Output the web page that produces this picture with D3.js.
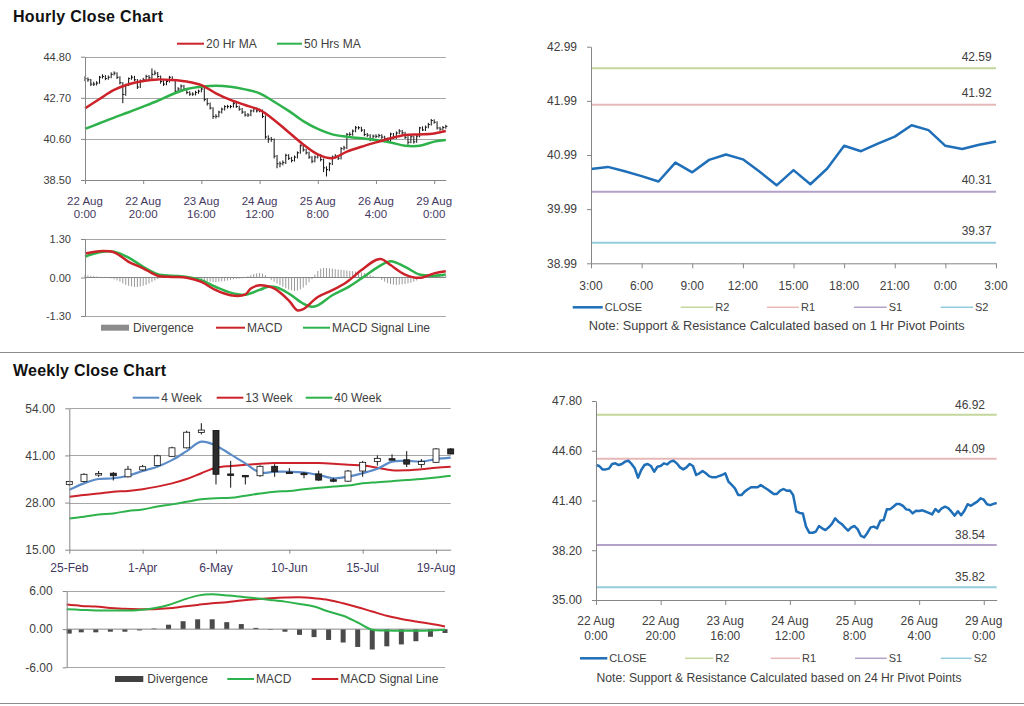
<!DOCTYPE html>
<html><head><meta charset="utf-8">
<script src="https://cdn.jsdelivr.net/npm/d3@7"></script>
<style>body{margin:0;background:#fff}svg{display:block}</style>
</head><body><svg id="c" width="1024" height="706"></svg>
<script>
// ---------------- DATA ----------------
const hourTickIdx = [0,20,40,60,80,100,120];
const hourLabels = [["22 Aug","0:00"],["22 Aug","20:00"],["23 Aug","16:00"],["24 Aug","12:00"],["25 Aug","8:00"],["26 Aug","4:00"],["29 Aug","0:00"]];
const hourClose = [
43.68,43.62,43.40,43.40,43.45,43.75,43.79,43.68,43.75,43.90,
43.96,43.75,43.47,42.87,43.36,43.68,43.75,43.62,43.25,43.57,
43.62,43.79,43.72,43.90,43.96,43.79,43.53,43.40,43.53,43.75,
43.62,43.04,43.15,43.30,43.15,42.97,42.89,42.89,42.97,43.04,
43.15,42.61,42.40,42.18,41.75,41.75,41.97,42.12,42.25,42.25,
42.25,42.40,42.25,42.12,41.97,41.82,41.82,42.03,42.14,42.03,
42.05,41.75,40.70,40.60,40.57,39.72,39.33,39.33,39.39,39.76,
39.61,39.50,39.67,39.89,40.25,40.04,39.89,39.67,39.46,39.67,
39.76,39.54,39.12,39.03,39.33,39.67,39.72,39.61,40.10,40.14,
40.83,40.83,41.00,41.17,41.17,41.05,40.83,40.79,40.57,40.74,
40.73,40.77,40.69,40.60,40.50,40.85,40.67,40.90,41.00,40.91,
40.68,40.43,40.71,40.45,40.74,41.16,41.06,41.20,41.33,41.54,
41.45,41.16,41.10,41.18,41.24];
const hourHigh = [
43.80,43.74,43.66,43.52,43.55,43.82,43.90,43.86,43.84,44.00,
44.05,44.00,43.80,43.50,43.42,43.74,43.85,43.82,43.66,43.64,
43.72,43.88,43.86,44.20,44.10,44.02,43.84,43.60,43.62,43.82,
43.80,43.66,43.24,43.38,43.36,43.20,43.04,42.98,43.06,43.12,
43.28,43.20,42.68,42.46,42.22,41.86,42.04,42.20,42.32,42.34,
42.33,42.48,42.46,42.30,42.18,42.02,41.92,42.10,42.22,42.20,
42.14,42.10,41.80,40.78,40.70,40.62,39.78,39.45,39.50,39.84,
39.82,39.68,39.75,39.96,40.32,40.30,40.10,39.95,39.72,39.75,
39.84,39.82,39.60,39.20,39.40,39.75,39.82,39.78,40.18,40.25,
40.90,40.94,41.08,41.26,41.25,41.22,41.10,40.90,40.84,40.82,
40.84,40.86,40.84,40.76,40.66,40.92,40.90,40.98,41.10,41.06,
40.96,40.74,40.78,40.76,40.82,41.22,41.24,41.28,41.42,41.62,
41.60,41.50,41.22,41.26,41.32];
const hourLow = [
43.55,43.52,43.30,43.30,43.33,43.42,43.68,43.60,43.62,43.70,
43.84,43.66,43.38,42.42,42.80,43.30,43.62,43.55,43.15,43.20,
43.50,43.56,43.64,43.66,43.85,43.72,43.42,43.30,43.34,43.48,
43.55,42.96,42.95,43.08,43.06,42.88,42.80,42.80,42.82,42.90,
42.98,42.52,42.30,42.10,41.62,41.64,41.70,41.90,42.05,42.15,
42.16,42.20,42.18,42.04,41.88,41.74,41.72,41.76,41.96,41.95,
41.96,41.66,40.60,40.40,40.45,39.60,39.10,39.15,39.25,39.32,
39.52,39.40,39.44,39.60,39.84,39.95,39.80,39.58,39.36,39.40,
39.60,39.45,38.90,38.68,38.95,39.26,39.60,39.52,39.55,40.02,
40.08,40.74,40.76,40.94,41.08,40.96,40.74,40.70,40.48,40.50,
40.64,40.66,40.60,40.52,40.40,40.44,40.60,40.60,40.84,40.84,
40.60,40.30,40.38,40.36,40.40,40.68,41.00,41.00,41.14,41.28,
41.38,41.08,41.02,41.04,41.12];
// moving averages read at every 5th bar
const maIdx = [0,5,10,15,20,25,30,35,40,45,50,55,60,65,70,75,80,85,90,95,100,105,110,115,120,124];
const ma20 = [42.16,42.64,43.10,43.39,43.56,43.64,43.61,43.53,43.35,42.93,42.59,42.33,42.08,41.57,40.94,40.32,39.81,39.61,39.95,40.20,40.42,40.63,40.80,40.83,40.88,41.00];
const ma50 = [41.11,41.40,41.69,41.96,42.25,42.55,42.88,43.15,43.27,43.32,43.27,43.13,42.93,42.50,42.03,41.51,41.11,40.83,40.71,40.63,40.54,40.42,40.25,40.25,40.46,40.54];
// hourly MACD
const hDivergence = [
0.08,0.07,0.06,0.05,
0.03,0.02,0.01,0.0,-0.01,
-0.03,-0.06,-0.10,-0.14,
-0.20,-0.25,-0.28,-0.30,-0.32,-0.32,-0.30,-0.28,-0.25,-0.20,
-0.15,-0.10,-0.05,0.0,
0.03,0.04,0.04,0.03,0.03,0.02,0.02,0.01,0.0,
-0.03,-0.05,-0.07,-0.09,-0.10,-0.12,-0.13,-0.14,-0.15,-0.15,-0.14,-0.13,-0.12,-0.10,-0.08,-0.06,-0.05,-0.04,-0.03,-0.02,
0.04,0.08,0.12,0.14,0.15,0.13,0.08,
-0.02,-0.08,-0.14,-0.20,-0.26,-0.31,-0.36,-0.40,-0.43,-0.45,-0.44,-0.40,-0.34,-0.26,-0.16,-0.06,
0.10,0.22,0.30,0.32,0.32,0.31,0.30,0.28,0.27,0.26,0.25,0.24,0.22,0.21,0.20,0.19,0.17,0.15,0.12,0.08,0.05,0.02,
-0.02,-0.08,-0.14,-0.19,-0.22,-0.24,-0.25,-0.24,-0.23,-0.22,-0.20,-0.18,-0.14,-0.10,-0.05,
0.0,0.02,0.03,0.04,0.04,0.05,0.06,0.06,0.06];
const hMacdIdx = [0,5,10,15,20,25,30,35,40,45,50,55,57,60,63,65,70,73,75,80,85,90,95,100,102,105,110,115,120,124];
const hMacd = [0.81,0.89,0.85,0.53,0.31,0.06,0.02,-0.01,-0.15,-0.43,-0.60,-0.58,-0.37,-0.26,-0.30,-0.37,-0.77,-1.11,-1.07,-0.66,-0.43,-0.15,0.25,0.59,0.62,0.42,0.10,-0.01,0.14,0.21];
const hSignalIdx = [0,5,10,15,20,25,30,35,40,45,50,55,60,63,66,70,75,78,80,85,90,95,100,105,110,115,120,124];
const hSignal = [0.70,0.85,0.87,0.67,0.36,0.11,0.06,0.02,-0.09,-0.32,-0.51,-0.58,-0.42,-0.31,-0.34,-0.54,-0.88,-0.99,-0.94,-0.60,-0.35,-0.03,0.31,0.55,0.36,0.10,0.06,0.10];
// 1 hr pivot chart (last 25 hourly closes)
const pivotHourLabels = ["3:00","6:00","9:00","12:00","15:00","18:00","21:00","0:00","3:00"];
const pivot1h = {R2:42.59, R1:41.92, S1:40.31, S2:39.37};
const pivot24h = {R2:46.92, R1:44.09, S1:38.54, S2:35.82};
// weekly
const weekLabels = ["25-Feb","1-Apr","6-May","10-Jun","15-Jul","19-Aug"];
const wOpen  = [33.0,33.8,35.9,36.1,35.1,37.0,38.2,40.75,43.1,47.3,47.9,35.9,35.5,35.4,38.0,36.4,36.1,35.9,34.3,33.9,36.7,39.3,40.1,39.8,38.5,39.1,42.8];
const wHigh  = [34.0,36.1,36.7,36.4,38.1,38.4,41.2,43.4,47.8,49.9,47.9,39.5,35.6,38.3,38.6,37.5,36.4,36.8,34.8,37.0,39.5,41.0,41.3,42.2,40.0,43.0,43.0];
const wLow   = [32.6,33.6,35.1,34.1,34.9,36.8,38.0,40.6,42.9,46.8,33.0,32.1,33.0,35.1,35.1,36.0,34.7,34.0,33.6,33.7,35.1,38.2,39.8,37.8,37.6,38.9,41.3];
const wClose = [33.8,35.8,36.0,35.4,37.2,37.9,40.9,43.1,47.4,48.0,35.8,35.8,35.4,38.0,36.5,36.3,36.0,34.2,34.2,36.7,39.1,40.2,40.0,38.6,39.3,42.8,41.4];
const w4  = [31.5,33.3,34.5,34.7,35.4,36.7,37.9,39.7,42.2,44.8,43.7,41.3,38.8,36.3,36.5,36.5,36.3,35.6,34.7,35.1,36.1,37.3,39.3,39.5,39.3,40.0,40.4];
const w13 = [29.6,30.1,30.5,31.0,31.2,31.7,32.4,33.3,34.5,36.1,37.6,38.1,38.4,38.7,38.9,38.9,38.9,38.9,38.7,38.4,38.2,37.6,36.9,36.9,37.2,37.6,37.9];
const w40 = [23.6,24.1,24.7,25.0,25.7,26.1,26.9,27.5,28.2,28.9,29.2,29.3,29.9,30.5,31.0,31.2,31.7,32.1,32.4,32.7,33.3,33.6,33.9,34.2,34.5,34.9,35.4];
const wDivergence = [-0.7,-0.5,-0.5,-0.4,-0.4,-0.2,0.1,0.7,1.25,1.55,1.55,1.1,0.8,0.2,-0.1,-0.4,-0.9,-1.25,-1.7,-2.1,-2.8,-3.2,-2.7,-2.4,-1.9,-1.2,-0.6];
const wMacd = [3.14,3.03,2.93,2.93,2.93,3.03,3.3,3.8,4.6,5.27,5.48,5.3,5.1,4.85,4.6,4.33,3.97,3.55,2.77,2.1,1.05,-0.1,-0.2,-0.25,-0.25,-0.2,-0.1];
const wSignal = [3.86,3.66,3.55,3.34,3.19,3.14,3.14,3.29,3.55,3.81,4.07,4.23,4.49,4.7,4.85,4.96,5.0,4.85,4.6,4.07,3.45,2.77,2.1,1.6,1.2,0.84,0.42];

// ---------------- DRAWING ----------------
const F = '"Liberation Sans", Arial, sans-serif';
const AX = "#868686", GRID = "#a6a6a6", TXT = "#404040", XTXT = "#44395f";
const RED = "#cc2229", GREEN = "#2eb24b", BLUE = "#1f6fb8", WBLUE = "#5b8cc8";
const PIV = {R2:"#c3d69b", R1:"#e6b9b8", S1:"#b3a2c7", S2:"#93cddd"};
const svg = d3.select("#c").attr("font-family", F);
const fmt2 = d => d3.format(".2f")(d).replace("\u2212", "-");

function yAxis(x0, y, ticks, fs) {
  const g = svg.append("g").attr("transform", `translate(${x0},0)`)
    .call(d3.axisLeft(y).tickValues(ticks).tickFormat(fmt2).tickSizeInner(4).tickSizeOuter(0).tickPadding(10));
  g.attr("font-family", F).attr("font-size", fs);
  g.select(".domain").attr("stroke", AX);
  g.selectAll(".tick line").attr("stroke", AX);
  g.selectAll(".tick text").attr("fill", TXT);
  return g;
}
function xAxis(y0, x, ticks) {
  const g = svg.append("g").attr("transform", `translate(0,${y0})`)
    .call(d3.axisBottom(x).tickValues(ticks).tickFormat("").tickSizeInner(4).tickSizeOuter(0));
  g.select(".domain").attr("stroke", AX);
  g.selectAll(".tick line").attr("stroke", AX);
  return g;
}
function grid(x, y, vals) {
  svg.append("g").selectAll("line").data(vals).join("line")
    .attr("x1", x.range()[0]).attr("x2", x.range()[1])
    .attr("y1", d => Math.round(y(d)) + 0.5).attr("y2", d => Math.round(y(d)) + 0.5)
    .attr("stroke", GRID).attr("stroke-width", 1);
}
function legendLine(x1, x2, y, color, w, label, fs) {
  svg.append("line").attr("x1", x1).attr("x2", x2).attr("y1", y).attr("y2", y).attr("stroke", color).attr("stroke-width", w);
  svg.append("text").attr("x", x2 + 2).attr("y", y + 4).attr("font-size", fs).attr("fill", TXT).text(label);
}
function legendBox(x1, x2, y, color, label, fs) {
  svg.append("rect").attr("x", x1).attr("y", y - 3).attr("width", x2 - x1).attr("height", 6).attr("fill", color);
  svg.append("text").attr("x", x2 + 4).attr("y", y + 4).attr("font-size", fs).attr("fill", TXT).text(label);
}
function twoLineLabels(x, ticks, labels, y1, y2, fs, color) {
  ticks.forEach((t, k) => {
    svg.append("text").attr("x", x(t)).attr("y", y1).attr("text-anchor", "middle").attr("font-size", fs).attr("fill", color).text(labels[k][0]);
    svg.append("text").attr("x", x(t)).attr("y", y2).attr("text-anchor", "middle").attr("font-size", fs).attr("fill", color).text(labels[k][1]);
  });
}

// titles + separators
svg.append("text").attr("x", 13).attr("y", 21.7).attr("font-size", 16).attr("font-weight", "bold").attr("fill", "#111").attr("textLength", 150).text("Hourly Close Chart");
svg.append("text").attr("x", 13).attr("y", 375.7).attr("font-size", 16).attr("font-weight", "bold").attr("fill", "#111").attr("textLength", 153).text("Weekly Close Chart");
[352.5, 703.5].forEach(yy => svg.append("line").attr("x1", 0).attr("x2", 1024).attr("y1", yy).attr("y2", yy).attr("stroke", "#8c8c8c").attr("stroke-width", 1));

// ===== Panel 1: hourly hi-lo with MAs =====
{
  const idx = d3.range(hourClose.length);
  const x = d3.scaleLinear().domain([0, 124]).range([85, 445.8]);
  const y = d3.scaleLinear().domain([38.5, 44.8]).range([180, 56.7]);
  grid(x, y, [40.6, 42.7, 44.8]);
  const g = svg.append("g").attr("stroke", "#111").attr("stroke-width", 1);
  g.selectAll("line.hl").data(idx).join("line").attr("class", "hl")
    .attr("x1", i => x(i)).attr("x2", i => x(i)).attr("y1", i => y(hourHigh[i])).attr("y2", i => y(hourLow[i]));
  g.selectAll("line.cl").data(idx).join("line").attr("class", "cl")
    .attr("x1", i => x(i)).attr("x2", i => x(i) + 1.6).attr("y1", i => y(hourClose[i])).attr("y2", i => y(hourClose[i]));
  const line = d3.line().x(d => x(d[0])).y(d => y(d[1])).curve(d3.curveCatmullRom.alpha(0.5));
  svg.append("path").attr("d", line(maIdx.map((t, k) => [t, ma50[k]]))).attr("fill", "none").attr("stroke", GREEN).attr("stroke-width", 2.5);
  svg.append("path").attr("d", line(maIdx.map((t, k) => [t, ma20[k]]))).attr("fill", "none").attr("stroke", RED).attr("stroke-width", 2.5);
  yAxis(85, y, [38.5, 40.6, 42.7, 44.8], 11);
  xAxis(180, x, hourTickIdx);
  twoLineLabels(x, hourTickIdx, hourLabels, 205.2, 217.9, 11.5, XTXT);
  legendLine(177, 204, 43.7, RED, 2, "20 Hr MA", 12);
  legendLine(277, 302, 43.7, GREEN, 2, "50 Hrs MA", 12);
}
// ===== Panel 2: hourly MACD =====
{
  const x = d3.scaleLinear().domain([0, 124]).range([85, 445.8]);
  const y = d3.scaleLinear().domain([-1.3, 1.3]).range([316, 239]);
  grid(x, y, [1.3, -1.3]);
  svg.append("g").selectAll("line").data(hDivergence).join("line")
    .attr("x1", (d, i) => x(i)).attr("x2", (d, i) => x(i)).attr("y1", y(0)).attr("y2", d => y(d))
    .attr("stroke", "#9a9a9a").attr("stroke-width", 1);
  svg.append("line").attr("x1", 85).attr("x2", 445.8).attr("y1", y(0)).attr("y2", y(0)).attr("stroke", AX);
  const line = d3.line().x(d => x(d[0])).y(d => y(d[1])).curve(d3.curveCatmullRom.alpha(0.5));
  svg.append("path").attr("d", line(hSignalIdx.map((t, k) => [t, hSignal[k]]))).attr("fill", "none").attr("stroke", GREEN).attr("stroke-width", 2.5);
  svg.append("path").attr("d", line(hMacdIdx.map((t, k) => [t, hMacd[k]]))).attr("fill", "none").attr("stroke", RED).attr("stroke-width", 2.5);
  yAxis(85, y, [-1.3, 0, 1.3], 11);
  legendBox(101, 129, 327.7, "#8c8c8c", "Divergence", 12);
  legendLine(216, 245, 327.7, RED, 2, "MACD", 12);
  legendLine(303, 330, 327.7, GREEN, 2, "MACD Signal Line", 12);
}
// pivot chart helper
function pivotChart(opts) {
  const {x, y, data, yTicks, pivots, labelX, labelDy, legendY, legendPos, note, noteX, noteY, noteLen} = opts;
  Object.keys(pivots).forEach(k => {
    const yy = y(pivots[k]);
    svg.append("line").attr("x1", x.range()[0]).attr("x2", x.range()[1]).attr("y1", yy).attr("y2", yy).attr("stroke", PIV[k]).attr("stroke-width", 2);
    svg.append("text").attr("x", labelX).attr("y", yy - labelDy).attr("text-anchor", "end").attr("font-size", 12).attr("fill", TXT).text(fmt2(pivots[k]));
  });
  const line = d3.line().x((d, i) => x(i)).y(d => y(d));
  svg.append("path").attr("d", line(data)).attr("fill", "none").attr("stroke", BLUE).attr("stroke-width", 2.5).attr("stroke-linejoin", "round");
  yAxis(x.range()[0], y, yTicks, 12);
  legendLine(legendPos[0][0], legendPos[0][1], legendY, BLUE, 2.5, "CLOSE", 11);
  ["R2", "R1", "S1", "S2"].forEach((k, j) => legendLine(legendPos[j + 1][0], legendPos[j + 1][1], legendY, PIV[k], 1.5, k, 11));
  svg.append("text").attr("x", noteX).attr("y", noteY).attr("text-anchor", "middle").attr("font-size", 12).attr("fill", TXT)
    .attr("textLength", noteLen).attr("lengthAdjust", "spacingAndGlyphs").text(note);
}
// ===== Panel 3: 1 hr pivot =====
{
  const last = hourClose.slice(hourClose.length - 25);
  const x = d3.scaleLinear().domain([0, 24]).range([591, 996]);
  const y = d3.scaleLinear().domain([38.99, 42.99]).range([263.3, 46.7]);
  pivotChart({x, y, data: last, yTicks: [38.99, 39.99, 40.99, 41.99, 42.99], pivots: pivot1h, labelX: 991.7, labelDy: 7.5,
    legendY: 307.3, legendPos: [[572.7, 602.7], [680.7, 713.3], [767, 799], [854, 886.7], [940.7, 973]],
    note: "Note: Support & Resistance Calculated based on 1 Hr Pivot Points", noteX: 776.7, noteY: 329.7, noteLen: 376});
  const ticks = d3.range(0, 25, 3);
  xAxis(263.3, x, ticks).selectAll(".tick line").attr("y2", 5);
  ticks.forEach((t, k) => svg.append("text").attr("x", x(t)).attr("y", 290).attr("text-anchor", "middle").attr("font-size", 12).attr("fill", TXT).text(pivotHourLabels[k]));
}
// ===== Panel 4: 24 hr pivot =====
{
  const x = d3.scaleLinear().domain([0, 124]).range([596, 996.7]);
  const y = d3.scaleLinear().domain([35, 47.8]).range([600, 401]);
  pivotChart({x, y, data: hourClose, yTicks: [35, 38.2, 41.4, 44.6, 47.8], pivots: pivot24h, labelX: 985, labelDy: 6,
    legendY: 658.3, legendPos: [[580, 607.3], [685, 713.3], [770.7, 800], [855, 886.7], [940.7, 971.7]],
    note: "Note: Support & Resistance Calculated based on 24 Hr Pivot Points", noteX: 779, noteY: 681.7, noteLen: 365});
  xAxis(600, x, hourTickIdx).selectAll(".tick line").attr("y2", 5);
  twoLineLabels(x, hourTickIdx, hourLabels, 624.7, 640, 12, TXT);
}
// ===== Panel 5: weekly candles =====
{
  const x = d3.scaleLinear().domain([0, 26]).range([69.3, 450.7]);
  const y = d3.scaleLinear().domain([15, 54]).range([549.7, 408.3]);
  grid(x, y, [28, 41, 54]);
  const idx = d3.range(wClose.length);
  const line = d3.line().x((d, i) => x(i)).y(d => y(d)).curve(d3.curveCatmullRom.alpha(0.5));
  svg.append("path").attr("d", line(w40)).attr("fill", "none").attr("stroke", GREEN).attr("stroke-width", 2);
  svg.append("path").attr("d", line(w13)).attr("fill", "none").attr("stroke", RED).attr("stroke-width", 2);
  svg.append("path").attr("d", line(w4)).attr("fill", "none").attr("stroke", WBLUE).attr("stroke-width", 2.2);
  const g = svg.append("g");
  g.selectAll("line").data(idx).join("line")
    .attr("x1", i => x(i)).attr("x2", i => x(i)).attr("y1", i => y(wHigh[i])).attr("y2", i => y(wLow[i]))
    .attr("stroke", "#111").attr("stroke-width", 1);
  g.selectAll("rect").data(idx).join("rect")
    .attr("x", i => x(i) - 3).attr("width", 6)
    .attr("y", i => y(Math.max(wOpen[i], wClose[i])))
    .attr("height", i => Math.max(1.5, Math.abs(y(wOpen[i]) - y(wClose[i]))))
    .attr("fill", i => wClose[i] >= wOpen[i] ? "#fff" : "#2b2b2b")
    .attr("stroke", "#111").attr("stroke-width", 0.8);
  yAxis(69.3, y, [15, 28, 41, 54], 12);
  const ticks = [0, 5, 10, 15, 20, 25];
  xAxis(549.7, x, ticks);
  ticks.forEach((t, k) => svg.append("text").attr("x", x(t)).attr("y", 571.7).attr("text-anchor", "middle").attr("font-size", 12).attr("fill", XTXT).text(weekLabels[k]));
  legendLine(132.7, 159.3, 397.7, WBLUE, 2, "4 Week", 12);
  legendLine(216.7, 243.3, 397.7, RED, 2, "13 Week", 12);
  legendLine(305.7, 332.3, 397.7, GREEN, 2, "40 Week", 12);
}
// ===== Panel 6: weekly MACD =====
{
  const x = d3.scaleLinear().domain([0, 26]).range([66.7, 445]);
  const y = d3.scaleLinear().domain([-6, 6]).range([667.3, 591]);
  grid(x, y, [6, -6]);
  svg.append("g").selectAll("rect").data(wDivergence).join("rect")
    .attr("x", (d, i) => Math.max(66.7, x(i) - 2.5)).attr("width", 5)
    .attr("y", d => y(Math.max(0, d))).attr("height", d => Math.abs(y(d) - y(0)))
    .attr("fill", "#4a4a4a");
  svg.append("line").attr("x1", 66.7).attr("x2", 445).attr("y1", y(0)).attr("y2", y(0)).attr("stroke", AX);
  const line = d3.line().x((d, i) => x(i)).y(d => y(d)).curve(d3.curveCatmullRom.alpha(0.5));
  svg.append("path").attr("d", line(wSignal)).attr("fill", "none").attr("stroke", RED).attr("stroke-width", 2);
  svg.append("path").attr("d", line(wMacd)).attr("fill", "none").attr("stroke", GREEN).attr("stroke-width", 2);
  yAxis(66.7, y, [-6, 0, 6], 12);
  legendBox(115, 143.3, 679, "#404040", "Divergence", 12);
  legendLine(227.3, 254, 679, GREEN, 2, "MACD", 12);
  legendLine(311.7, 338.3, 679, RED, 2, "MACD Signal Line", 12);
}
</script></body></html>
